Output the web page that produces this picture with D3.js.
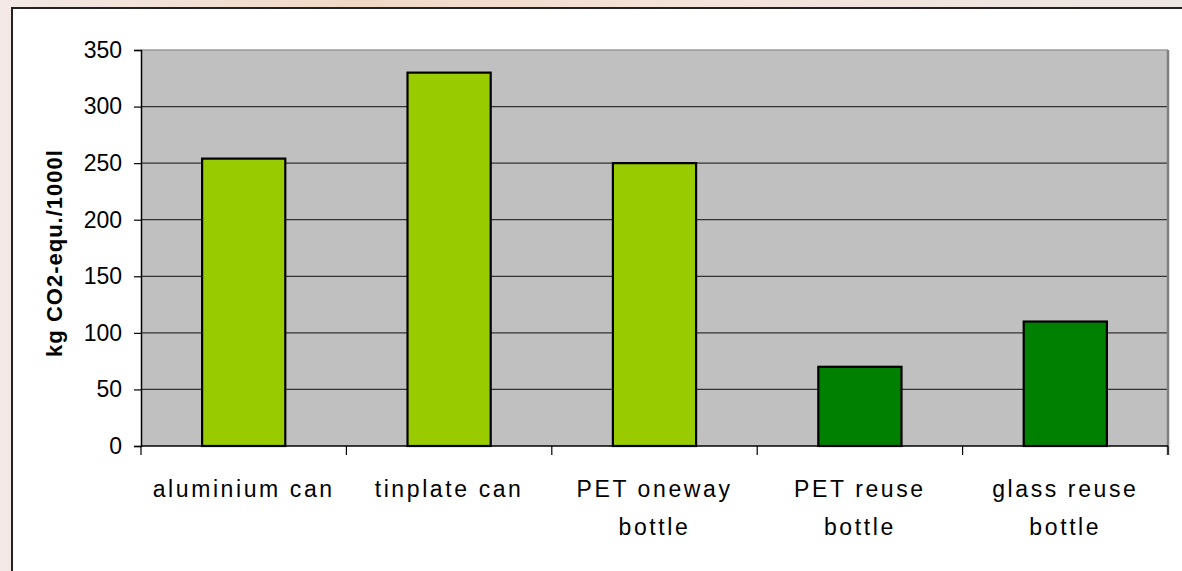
<!DOCTYPE html>
<meta charset="utf-8">
<style>
body { margin: 0; background: #f1e7e2; overflow: hidden; }
svg { display: block; font-family: "Liberation Sans", Arial, sans-serif; }
</style>
<script src="https://d3js.org/d3.v7.min.js"></script>
<body>
<svg id="chart"></svg>
<script>

var width = 1182,
    height = 571;

// data
var categories = ["aluminium can", "tinplate can", "PET oneway bottle", "PET reuse bottle", "glass reuse bottle"];
var labelLines = [["aluminium can"], ["tinplate can"], ["PET oneway", "bottle"], ["PET reuse", "bottle"], ["glass reuse", "bottle"]];
var values = [254, 330, 250, 70, 110];
var barColors = ["#99cc00", "#99cc00", "#99cc00", "#008000", "#008000"];
var yTicks = [0, 50, 100, 150, 200, 250, 300, 350];
var yTitle = "kg CO2-equ./1000l";

var svg = d3.select("#chart")
    .attr("width", width)
    .attr("height", height);

// blurred backdrop behind the chart frame
var defs = svg.append("defs");
var grad = defs.append("linearGradient").attr("id", "bg").attr("x1", 0).attr("x2", 1);
grad.append("stop").attr("offset", "0%").attr("stop-color", "#f3e9e6");
grad.append("stop").attr("offset", "30%").attr("stop-color", "#f0d8c6");
grad.append("stop").attr("offset", "55%").attr("stop-color", "#f4e2d8");
grad.append("stop").attr("offset", "100%").attr("stop-color", "#ece6e3");
svg.append("rect").attr("width", width).attr("height", height).attr("fill", "url(#bg)");

// white chart frame
svg.append("rect")
    .attr("x", 12).attr("y", 8)
    .attr("width", width).attr("height", height)
    .attr("fill", "#fff")
    .attr("stroke", "#222")
    .attr("stroke-width", 2);

var plot = { left: 141, right: 1168, top: 50, bottom: 446 };

var x = d3.scaleBand()
    .domain(categories)
    .range([plot.left, plot.right])
    .paddingInner(0.595)
    .paddingOuter(0.2975);

var y = d3.scaleLinear()
    .domain([0, 350])
    .range([plot.bottom, plot.top]);

// plot area
svg.append("rect")
    .attr("x", plot.left).attr("y", plot.top)
    .attr("width", plot.right - plot.left)
    .attr("height", plot.bottom - plot.top)
    .attr("fill", "#c0c0c0");

svg.append("line")
    .attr("x1", plot.left).attr("x2", plot.right)
    .attr("y1", plot.top).attr("y2", plot.top)
    .attr("stroke", "#9a9a9a").attr("stroke-width", 1.5);

// gridlines
svg.append("g")
    .selectAll("line")
    .data(yTicks.filter(function(d) { return d > 0 && d < 350; }))
    .enter().append("line")
    .attr("x1", plot.left).attr("x2", plot.right)
    .attr("y1", function(d) { return y(d); })
    .attr("y2", function(d) { return y(d); })
    .attr("stroke", "#333")
    .attr("stroke-width", 1.2);

svg.append("line")
    .attr("x1", plot.right).attr("x2", plot.right)
    .attr("y1", plot.top).attr("y2", plot.bottom + 9)
    .attr("stroke", "#808080").attr("stroke-width", 2.5);

// bars
svg.append("g")
    .selectAll("rect")
    .data(values)
    .enter().append("rect")
    .attr("x", function(d, i) { return x(categories[i]); })
    .attr("y", function(d) { return y(d); })
    .attr("width", x.bandwidth())
    .attr("height", function(d) { return y(0) - y(d); })
    .attr("fill", function(d, i) { return barColors[i]; })
    .attr("stroke", "#000")
    .attr("stroke-width", 2.2);

// y axis
var yAxis = svg.append("g")
    .attr("transform", "translate(" + plot.left + ",0)")
    .call(d3.axisLeft(y).tickValues(yTicks).tickSize(7).tickPadding(12));
yAxis.attr("font-size", null).attr("font-family", null);
yAxis.select(".domain").attr("stroke", "#000").attr("stroke-width", 1.5);
yAxis.selectAll(".tick line").attr("stroke", "#000").attr("stroke-width", 1.2);
yAxis.selectAll(".tick text")
    .attr("fill", "#000")
    .style("font-size", "23px");

// x axis
svg.append("line")
    .attr("x1", plot.left).attr("x2", plot.right)
    .attr("y1", plot.bottom).attr("y2", plot.bottom)
    .attr("stroke", "#000").attr("stroke-width", 1.5);

svg.append("g")
    .selectAll("line")
    .data(d3.range(categories.length + 1))
    .enter().append("line")
    .attr("x1", function(i) { return plot.left + i * x.step(); })
    .attr("x2", function(i) { return plot.left + i * x.step(); })
    .attr("y1", plot.bottom)
    .attr("y2", plot.bottom + 9)
    .attr("stroke", "#000")
    .attr("stroke-width", 1.2);

var labels = svg.append("g")
    .selectAll("text")
    .data(categories)
    .enter().append("text")
    .attr("x", function(d) { return x(d) + x.bandwidth() / 2; })
    .attr("y", 497)
    .attr("text-anchor", "middle")
    .style("font-size", "23px")
    .style("letter-spacing", "2.6px")
    .attr("fill", "#000");

labels.selectAll("tspan")
    .data(function(d, i) { return labelLines[i]; })
    .enter().append("tspan")
    .attr("x", function() { var p = this.parentNode; return d3.select(p).attr("x"); })
    .attr("dy", function(d, i) { return i === 0 ? 0 : 38; })
    .text(function(d) { return d; });

// y title
svg.append("text")
    .attr("transform", "translate(62,253) rotate(-90)")
    .attr("text-anchor", "middle")
    .style("font-size", "22px")
    .style("font-weight", "bold")
    .style("letter-spacing", "1px")
    .attr("fill", "#000")
    .text(yTitle);

</script>
</body>
